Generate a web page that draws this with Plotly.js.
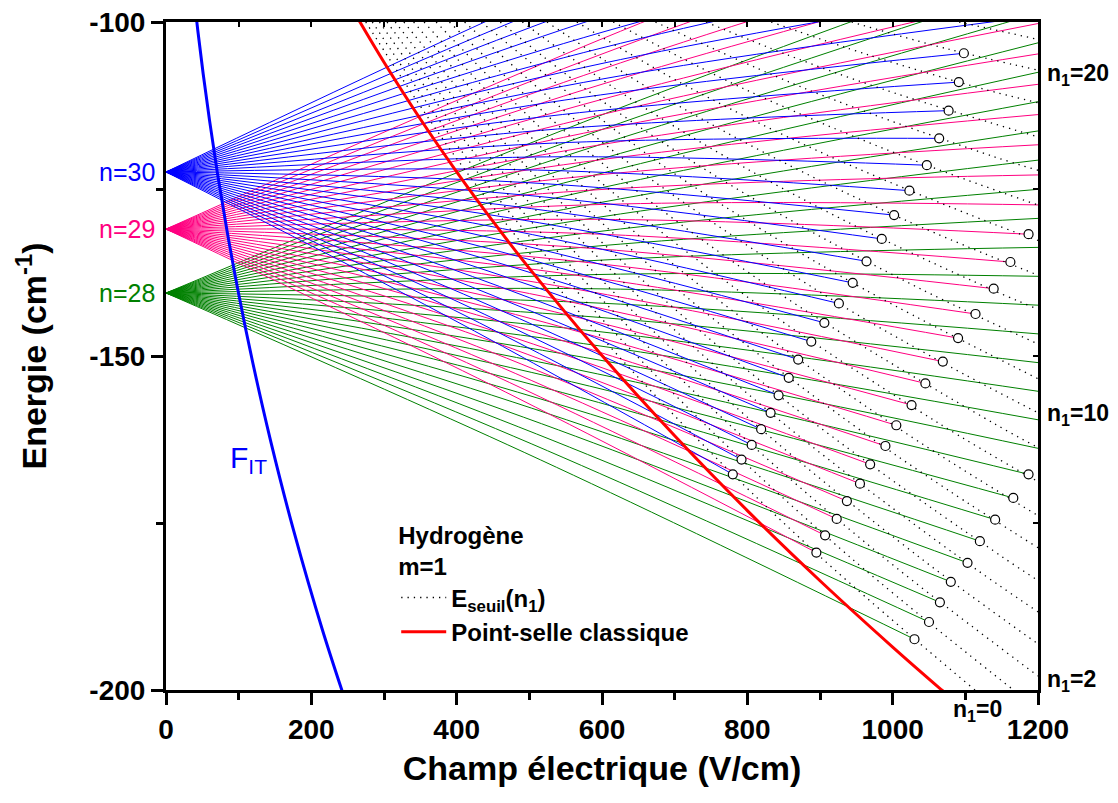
<!DOCTYPE html>
<html><head><meta charset="utf-8">
<script src="https://cdn.plot.ly/plotly-3.0.1.min.js"></script>
<style>html,body{margin:0;padding:0;background:#fff}#chart{width:1118px;height:803px}</style>
</head><body><div id="chart"></div>
<script>
// Stark manifolds of hydrogen, m = 1
const manifoldN = [28, 29, 30];
const manifoldLabels = ['n=28', 'n=29', 'n=30'];
const manifoldColors = ['#008000', '#FF0080', '#0000FF'];
const zeroFieldE = [-140.57, -131.0, -122.45];
const ionizedCount = [9, 16, 21];

// n = 28 : end field, energy at half field, energy at end field (k = -26 .. 26)
const n28_Fend = [1030, 1050, 1065, 1080, 1103, 1120, 1141, 1166, 1187, 1200, 1200, 1200, 1200, 1200, 1200, 1200, 1200, 1200, 1200, 1200, 1200, 1200, 1200, 1200, 1200, 1200, 1200];
const n28_Emid = [-165.53, -164.18, -162.65, -161.06, -159.56, -157.89, -156.21, -154.51, -152.67, -150.68, -148.54, -146.40, -144.25, -142.10, -139.95, -137.79, -135.64, -133.48, -131.31, -129.15, -126.98, -124.80, -122.63, -120.45, -118.27, -116.09, -113.90];
const n28_Eend = [-192.40, -189.82, -186.87, -183.80, -180.96, -177.72, -174.50, -171.25, -167.71, -163.82, -159.55, -155.28, -150.99, -146.69, -142.39, -138.07, -133.74, -129.40, -125.05, -120.68, -116.31, -111.93, -107.53, -103.12, -98.70, -94.28, -89.84];

// n = 29 (k = -27 .. 27)
const n29_Fend = [895, 907, 923, 937, 955, 969, 990, 1005, 1026, 1045, 1069, 1090, 1114, 1139, 1162, 1187, 1200, 1200, 1200, 1200, 1200, 1200, 1200, 1200, 1200, 1200, 1200, 1200];
const n29_Emid = [-154.32, -152.99, -151.70, -150.31, -148.95, -147.45, -146.01, -144.41, -142.82, -141.14, -139.43, -137.61, -135.73, -133.76, -131.69, -129.54, -127.31, -125.07, -122.83, -120.59, -118.34, -116.09, -113.84, -111.58, -109.32, -107.06, -104.79, -102.52];
const n29_Eend = [-179.43, -176.85, -174.39, -171.72, -169.11, -166.21, -163.47, -160.37, -157.34, -154.10, -150.83, -147.32, -143.71, -139.92, -135.93, -131.77, -127.38, -122.89, -118.38, -113.86, -109.33, -104.78, -100.23, -95.66, -91.07, -86.48, -81.87, -77.25];

// n = 30 (k = -28 .. 28)
const n30_Fend = [780, 792, 806, 819, 832, 843, 857, 870, 888, 906, 926, 945, 964, 985, 1002, 1023, 1047, 1064, 1077, 1091, 1098, 1200, 1200, 1200, 1200, 1200, 1200, 1200, 1200];
const n30_Emid = [-144.25, -143.10, -141.95, -140.73, -139.46, -138.09, -136.74, -135.32, -133.91, -132.45, -130.93, -129.32, -127.64, -125.90, -124.07, -122.17, -120.19, -118.13, -116.02, -113.85, -111.68, -108.54, -106.21, -103.88, -101.54, -99.19, -96.85, -94.50, -92.14];
const n30_Eend = [-167.71, -165.50, -163.31, -160.96, -158.51, -155.88, -153.27, -150.53, -147.84, -145.03, -142.13, -139.05, -135.82, -132.47, -128.91, -125.25, -121.44, -117.42, -113.27, -109.00, -104.68, -99.09, -94.37, -89.64, -84.89, -80.13, -75.36, -70.56, -65.76];

// Threshold curves E_seuil(n1), n1 = 0 .. 21
const seuilF = [
  [274.9, 397.0, 541.7, 709.3, 899.8, 1113.3],
  [283.9, 411.3, 562.9, 739.2, 940.2, 1166.2],
  [293.8, 427.1, 586.6, 772.6, 985.7, 1200],
  [304.2, 444.0, 612.0, 808.8, 1035.3, 1200],
  [315.5, 462.3, 639.7, 848.6, 1090.0, 1200],
  [327.4, 481.9, 669.5, 891.7, 1149.9, 1200],
  [340.8, 504.0, 703.6, 941.4, 1075.2, 1200],
  [355.2, 528.1, 741.1, 996.6, 1200],
  [371.8, 556.3, 785.3, 1062.4, 1200],
  [390.1, 587.6, 835.3, 1137.8, 1200],
  [410.9, 623.8, 893.6, 1052.0, 1200],
  [434.0, 664.6, 803.9, 960.7, 1200],
  [460.0, 577.0, 711.6, 865.2, 1039.4, 1200],
  [490.3, 618.5, 767.3, 938.8, 1135.1, 1200],
  [524.2, 665.7, 831.4, 1024.5, 1200],
  [565.3, 723.5, 911.3, 1133.0, 1200],
  [615.4, 795.3, 1012.3, 1200],
  [673.5, 880.4, 1134.8, 1200],
  [743.2, 857.1, 985.0, 1200],
  [832.7, 968.8, 1123.8, 1200],
  [943.5, 1074.4, 1200],
  [1091.5, 1200]
];
const seuilE = [
  [-100, -120, -140, -160, -180, -200],
  [-100, -120, -140, -160, -180, -200],
  [-100, -120, -140, -160, -180, -197.9],
  [-100, -120, -140, -160, -180, -193.1],
  [-100, -120, -140, -160, -180, -188.3],
  [-100, -120, -140, -160, -180, -183.6],
  [-100, -120, -140, -160, -170, -178.7],
  [-100, -120, -140, -160, -173.9],
  [-100, -120, -140, -160, -168.8],
  [-100, -120, -140, -160, -163.7],
  [-100, -120, -140, -150, -158.5],
  [-100, -120, -130, -140, -153.4],
  [-100, -110, -120, -130, -140, -148.2],
  [-100, -110, -120, -130, -140, -143.0],
  [-100, -110, -120, -130, -137.9],
  [-100, -110, -120, -130, -132.7],
  [-100, -110, -120, -127.4],
  [-100, -110, -120, -122.2],
  [-100, -105, -110, -117.2],
  [-100, -105, -110, -112.1],
  [-100, -104, -107.2],
  [-100, -102.6]
];

// Classical saddle point
const saddleF = [250, 266.9, 300, 350, 400, 450, 500, 600, 700, 800, 900, 1000, 1067.5, 1100];
const saddleE = [-96.79, -100, -106.02, -114.52, -122.43, -129.85, -136.88, -149.94, -161.95, -173.14, -183.64, -193.57, -200, -203.02];

// Inglis-Teller field F_IT
const itF = [266.3, 215.3, 175.5, 144.3, 119.5, 99.6, 83.6, 70.5, 59.9, 51.1, 43.8, 37.7];
const itE = [-207.93, -191.01, -176.08, -162.85, -151.05, -140.50, -131.01, -122.46, -114.73, -107.71, -101.31, -95.48];

const xTicks = [0, 200, 400, 600, 800, 1000, 1200];
const yTicks = [-200, -150, -100];
const yTickText = ['-200', '-150', '-100'];

const FONT = 'Liberation Sans, Arial, sans-serif';
const traces = [];
const sets = [
  {F: n28_Fend, Em: n28_Emid, Ee: n28_Eend},
  {F: n29_Fend, Em: n29_Emid, Ee: n29_Eend},
  {F: n30_Fend, Em: n30_Emid, Ee: n30_Eend}
];
sets.forEach((s, i) => {
  s.F.forEach((f, j) => {
    traces.push({type: 'scatter', mode: 'lines', x: [0, f / 2, f], y: [zeroFieldE[i], s.Em[j], s.Ee[j]],
      line: {color: manifoldColors[i], width: 1, shape: 'spline'}, showlegend: false, hoverinfo: 'skip'});
  });
});
seuilF.forEach((fs, i) => {
  traces.push({type: 'scatter', mode: 'lines', x: fs, y: seuilE[i],
    line: {color: 'black', width: 1.3, dash: '1.3px,5px', shape: 'spline'},
    name: '<b>E<sub>seuil</sub>(n<sub>1</sub>)</b>', legendgroup: 'seuil', showlegend: i === 0, hoverinfo: 'skip'});
});
traces.push({type: 'scatter', mode: 'lines', x: itF, y: itE, line: {color: '#0000FF', width: 3, shape: 'spline'}, showlegend: false, hoverinfo: 'skip'});
sets.forEach((s, i) => {
  traces.push({type: 'scatter', mode: 'markers', x: s.F.slice(0, ionizedCount[i]), y: s.Ee.slice(0, ionizedCount[i]),
    marker: {symbol: 'circle', size: 9, color: 'white', line: {color: 'black', width: 1.2}}, showlegend: false, hoverinfo: 'skip'});
});
traces.push({type: 'scatter', mode: 'lines', x: saddleF, y: saddleE, xaxis: 'x2', yaxis: 'y2',
  line: {color: '#FF0000', width: 3, shape: 'spline'}, name: '<b>Point-selle classique</b>', hoverinfo: 'skip'});

const annotations = manifoldLabels.map((t, i) => ({
  x: 0, y: zeroFieldE[i], xref: 'x', yref: 'y', text: t, showarrow: false, xanchor: 'right', yanchor: 'middle',
  xshift: -9, font: {family: FONT, size: 25, color: manifoldColors[i]}
}));
annotations.push({x: 113, y: -165.5, xref: 'x', yref: 'y', text: 'F<sub>IT</sub>', showarrow: false,
  font: {family: FONT, size: 30, color: '#0000FF'}});
const n1Labels = [
  {t: '<b>n<sub>1</sub>=20</b>', y: -107.9},
  {t: '<b>n<sub>1</sub>=10</b>', y: -158.8},
  {t: '<b>n<sub>1</sub>=2</b>', y: -198.6}
];
n1Labels.forEach(l => annotations.push({x: 1.008, y: l.y, xref: 'paper', yref: 'y', text: l.t, showarrow: false,
  xanchor: 'left', yanchor: 'middle', font: {family: FONT, size: 23, color: 'black'}}));
annotations.push({x: 0.931, y: -0.03, xref: 'paper', yref: 'paper', text: '<b>n<sub>1</sub>=0</b>', showarrow: false,
  xanchor: 'center', yanchor: 'middle', font: {family: FONT, size: 23, color: 'black'}});

const layout = {
  width: 1118, height: 803,
  margin: {l: 166, r: 80, t: 22, b: 113},
  paper_bgcolor: 'white', plot_bgcolor: 'white',
  showlegend: true,
  legend: {x: 0.264, y: 0.265, xanchor: 'left', yanchor: 'top', bgcolor: 'rgba(0,0,0,0)', borderwidth: 0,
    font: {family: FONT, size: 24, color: 'black'}, itemwidth: 45, tracegroupgap: 0,
    title: {text: '<b>Hydrogène<br>m=1</b>', font: {family: FONT, size: 24, color: 'black'}}},
  xaxis: {range: [0, 1200], tickvals: xTicks, ticks: 'outside', ticklen: 12, tickwidth: 3, tickcolor: 'black',
    minor: {dtick: 100, tick0: 0, ticks: 'outside', ticklen: 7, tickwidth: 3, tickcolor: 'black', showgrid: false},
    showline: true, linewidth: 3, linecolor: 'black', mirror: true, showgrid: false, zeroline: false,
    tickfont: {family: FONT, size: 28, color: 'black', weight: 'bold'},
    title: {text: '<b>Champ électrique (V/cm)</b>', font: {family: FONT, size: 34, color: 'black'}, standoff: 13}},
  yaxis: {range: [-200, -100], tickvals: yTicks, ticktext: yTickText, ticks: 'outside', ticklen: 12, tickwidth: 3, tickcolor: 'black',
    minor: {dtick: 25, tick0: -200, ticks: 'outside', ticklen: 7, tickwidth: 3, tickcolor: 'black', showgrid: false},
    showline: true, linewidth: 3, linecolor: 'black', mirror: true, showgrid: false, zeroline: false,
    tickfont: {family: FONT, size: 28, color: 'black', weight: 'bold'},
    title: {text: '<b>Energie (cm<sup>-1</sup>)</b>', font: {family: FONT, size: 34, color: 'black'}, standoff: 33}},
  xaxis2: {range: [0, 1200], overlaying: 'x', anchor: 'y2', side: 'top', ticks: 'inside', dtick: 100, tick0: 0,
    ticklen: 5, tickwidth: 2, tickcolor: 'black', showticklabels: false, showgrid: false, zeroline: false, showline: false},
  yaxis2: {range: [-200, -100], overlaying: 'y', anchor: 'x2', side: 'right', ticks: 'inside', dtick: 25, tick0: -200,
    ticklen: 5, tickwidth: 2, tickcolor: 'black', showticklabels: false, showgrid: false, zeroline: false, showline: false},
  annotations: annotations
};
Plotly.newPlot('chart', traces, layout, {displayModeBar: false, staticPlot: true});
</script>
</body></html>
